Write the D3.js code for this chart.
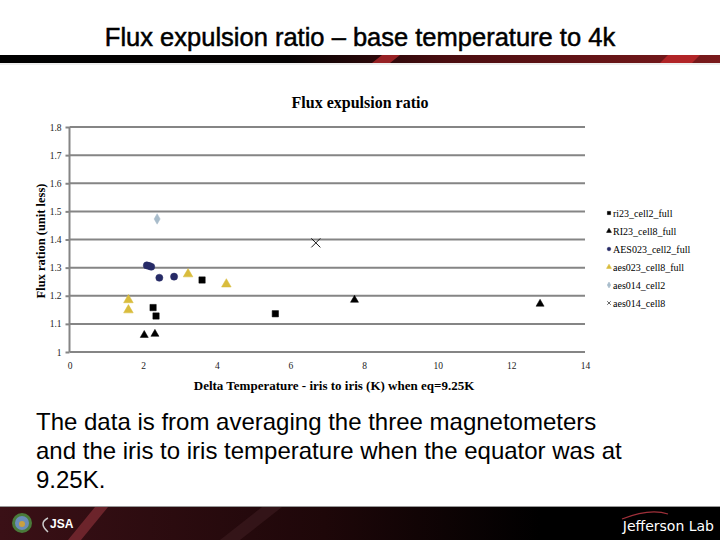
<!DOCTYPE html>
<html><head><meta charset="utf-8">
<script src="https://cdn.jsdelivr.net/npm/d3@7/dist/d3.min.js"></script>
<style>body{margin:0;background:#fff}svg{display:block}</style>
</head><body>
<script>
const slideTitle = "Flux expulsion ratio – base temperature to 4k";
const chartTitle = "Flux expulsion ratio";
const xTitle = "Delta Temperature - iris to iris (K) when eq=9.25K";
const yTitle = "Flux ration (unit less)";
const bodyLines = ["The data is from averaging the three magnetometers",
  "and the iris to iris temperature when the equator was at", "9.25K."];
const xTicks = [0, 2, 4, 6, 8, 10, 12, 14];
const yTicks = [1, 1.1, 1.2, 1.3, 1.4, 1.5, 1.6, 1.7, 1.8];
const seriesNames = ["ri23_cell2_full", "RI23_cell8_full", "AES023_cell2_full",
  "aes023_cell8_full", "aes014_cell2", "aes014_cell8"];
const ri23_cell2_full = [[3.60, 1.256], [2.27, 1.158], [2.35, 1.128], [5.59, 1.136]];
const RI23_cell8_full = [[2.03, 1.060], [2.32, 1.064], [7.74, 1.185], [12.78, 1.171]];
const AES023_cell2_full = [[2.10, 1.308], [2.16, 1.306], [2.22, 1.303], [2.44, 1.264], [2.84, 1.268]];
const aes023_cell8_full = [[3.22, 1.277], [4.26, 1.241], [1.60, 1.185], [1.60, 1.149]];
const aes014_cell2 = [[2.38, 1.473]];
const aes014_cell8 = [[6.69, 1.388]];

const W = 720, H = 540;
const svg = d3.select("body").append("svg").attr("width", W).attr("height", H);
const defs = svg.append("defs");

// header band
const g1 = defs.append("linearGradient").attr("id", "hband");
g1.append("stop").attr("offset", "0").attr("stop-color", "#000");
g1.append("stop").attr("offset", "0.40").attr("stop-color", "#050202");
g1.append("stop").attr("offset", "0.62").attr("stop-color", "#4a0d10");
g1.append("stop").attr("offset", "1").attr("stop-color", "#7a1a1c");
svg.append("rect").attr("x", 0).attr("y", 55).attr("width", W).attr("height", 8).attr("fill", "url(#hband)");
svg.append("polygon").attr("points", "372,63 382,55 400,55 390,63").attr("fill", "#b0282b").attr("opacity", 0.8);
svg.append("polygon").attr("points", "660,63 668,55 700,55 692,63").attr("fill", "#c0282b").attr("opacity", 0.8);
svg.append("line").attr("x1", 0).attr("x2", W).attr("y1", 64).attr("y2", 64).attr("stroke", "#ddd").attr("stroke-width", 1);

svg.append("text").attr("x", 360).attr("y", 46).attr("text-anchor", "middle")
  .attr("font-family", "Liberation Sans, Arial, sans-serif").attr("font-size", 25.5)
  .attr("stroke", "#000").attr("stroke-width", 0.5)
  .attr("fill", "#000").text(slideTitle);

// footer
const g2 = defs.append("linearGradient").attr("id", "fband");
g2.append("stop").attr("offset", "0").attr("stop-color", "#3a1016");
g2.append("stop").attr("offset", "0.45").attr("stop-color", "#1e0709");
g2.append("stop").attr("offset", "0.75").attr("stop-color", "#000");
g2.append("stop").attr("offset", "1").attr("stop-color", "#000");
svg.append("rect").attr("x", 0).attr("y", 506).attr("width", W).attr("height", 1).attr("fill", "#999");
svg.append("rect").attr("x", 0).attr("y", 507).attr("width", W).attr("height", 33).attr("fill", "url(#fband)");
svg.append("polygon").attr("points", "68,540 95,507 108,507 81,540").attr("fill", "#7a2a32").attr("opacity", 0.8);
svg.append("polygon").attr("points", "220,540 262,507 282,507 240,540").attr("fill", "#3a1a1e").attr("opacity", 0.7);
svg.append("circle").attr("cx", 22).attr("cy", 523).attr("r", 10).attr("fill", "#4a7a3a");
svg.append("circle").attr("cx", 22).attr("cy", 523).attr("r", 7).attr("fill", "#6a8cb8");
svg.append("circle").attr("cx", 22).attr("cy", 524).attr("r", 3).attr("fill", "#c9a040");
svg.append("text").attr("x", 50).attr("y", 528).attr("font-family", "Liberation Sans, Arial, sans-serif")
  .attr("font-size", 12).attr("font-weight", "bold").attr("fill", "#fff").text("JSA");
svg.append("path").attr("d", "M48,518 Q38,523 48,532").attr("fill", "none").attr("stroke", "#ccc").attr("stroke-width", 1.5);
svg.append("path").attr("d", "M622,519 Q650,508 668,514").attr("fill", "none").attr("stroke", "#a0303a").attr("stroke-width", 1.2);
svg.append("text").attr("x", 714).attr("y", 531).attr("text-anchor", "end")
  .attr("font-family", "DejaVu Sans, sans-serif").attr("font-size", 14).attr("fill", "#fff").text("Jefferson Lab");

// body text
svg.append("g").selectAll("text").data(bodyLines).join("text")
  .attr("x", 36).attr("y", (d, i) => 430 + i * 29)
  .attr("font-family", "Liberation Sans, Arial, sans-serif").attr("font-size", 24)
  .attr("fill", "#000").text(d => d);

// chart
const serif = "Liberation Serif, Times New Roman, serif";
const x = d3.scaleLinear().domain([0, 14]).range([69.5, 585]);
const y = d3.scaleLinear().domain([1, 1.8]).range([352, 127]);

svg.append("text").attr("x", 360).attr("y", 108).attr("text-anchor", "middle")
  .attr("font-family", serif).attr("font-size", 16).attr("font-weight", "bold").text(chartTitle);

const grid = svg.append("g");
grid.selectAll("line").data(yTicks).join("line")
  .attr("x1", x(0)).attr("x2", x(14)).attr("y1", d => y(d)).attr("y2", d => y(d))
  .attr("stroke", "#858585").attr("stroke-width", 2);

const yAxis = svg.append("g").attr("transform", `translate(${x(0)},0)`)
  .call(d3.axisLeft(y).tickValues(yTicks).tickSize(4).tickPadding(4).tickFormat(d3.format("")));
yAxis.attr("font-family", serif).attr("font-size", 9.5);
yAxis.select(".domain").attr("stroke", "#858585").attr("stroke-width", 2).attr("d", `M0,${y(1)}V${y(1.8)}`);
yAxis.selectAll(".tick line").attr("stroke", "#858585").attr("stroke-width", 2);
yAxis.selectAll(".tick text").attr("fill", "#222");

const xAxis = svg.append("g").attr("transform", `translate(0,${y(1)})`)
  .call(d3.axisBottom(x).tickValues(xTicks).tickSize(0).tickPadding(10).tickFormat(d3.format("")));
xAxis.attr("font-family", serif).attr("font-size", 9.5);
xAxis.select(".domain").remove();
xAxis.selectAll(".tick text").attr("fill", "#222");

svg.append("text").attr("x", 334).attr("y", 390).attr("text-anchor", "middle")
  .attr("font-family", serif).attr("font-size", 13).attr("font-weight", "bold").text(xTitle);
svg.append("text").attr("transform", "translate(45,241) rotate(-90)").attr("text-anchor", "middle")
  .attr("font-family", serif).attr("font-size", 12.5).attr("font-weight", "bold").text(yTitle);

const seriesData = [ri23_cell2_full, RI23_cell8_full, AES023_cell2_full, aes023_cell8_full, aes014_cell2, aes014_cell8];
const colors = ["#000", "#000", "#262a66", "#d9bc3c", "#a8bccb", "#000"];
const shapes = [d3.symbolSquare, d3.symbolTriangle, d3.symbolCircle, d3.symbolTriangle, d3.symbolDiamond, d3.symbolX];
const sizes = [40, 28, 40, 40, 32, 55];

seriesData.forEach((data, i) => {
  const sym = d3.symbol().type(shapes[i]).size(sizes[i]);
  svg.append("g").selectAll("path").data(data).join("path")
    .attr("transform", d => `translate(${x(d[0])},${y(d[1])})`)
    .attr("d", sym)
    .attr("fill", shapes[i] === d3.symbolX ? "none" : colors[i])
    .attr("stroke", colors[i]).attr("stroke-width", shapes[i] === d3.symbolX ? 0.9 : 0.5);
});

const leg = svg.append("g");
seriesNames.forEach((name, i) => {
  const yy = 213 + i * 18;
  const sym = d3.symbol().type(shapes[i]).size(10);
  leg.append("path").attr("transform", `translate(609,${yy})`).attr("d", sym)
    .attr("fill", shapes[i] === d3.symbolX ? "none" : colors[i]).attr("stroke", colors[i]).attr("stroke-width", 0.6);
  leg.append("text").attr("x", 613).attr("y", yy + 3.5).attr("font-family", serif)
    .attr("font-size", 10).attr("fill", "#000").text(name);
});
</script>
</body></html>
